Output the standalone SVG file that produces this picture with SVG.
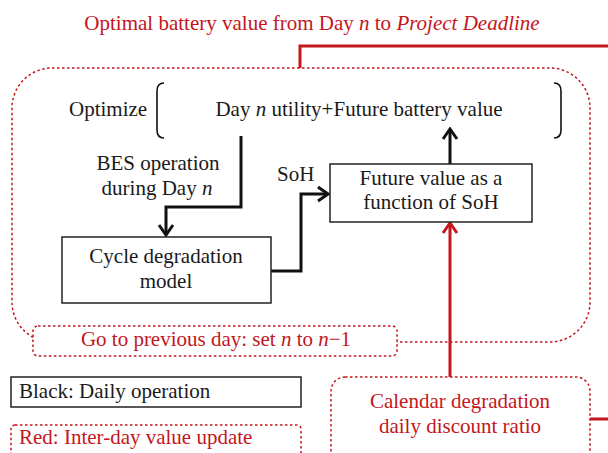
<svg xmlns="http://www.w3.org/2000/svg" width="608" height="453" viewBox="0 0 608 453">
  <style>
    text { font-family: "Liberation Serif", "Times New Roman", serif; font-size: 21px; }
    .blk { fill: #1a1a1a; }
    .red { fill: #c4161c; }
    .mid { text-anchor: middle; }
    .box { fill: #ffffff; stroke: #222222; stroke-width: 1.5; }
    .dot { fill: #ffffff; stroke: #c4161c; stroke-width: 1.5; stroke-dasharray: 2.5 2.5; }
    .dotn { fill: none; stroke: #c4161c; stroke-width: 1.5; stroke-dasharray: 2.5 2.5; }
    .wk { fill: none; stroke: #111111; stroke-width: 3; }
    .wr { fill: none; stroke: #c4161c; stroke-width: 3; }
    .brk { fill: none; stroke: #111111; stroke-width: 1.6; }
  </style>
  <defs>
    <marker id="ah-k" viewBox="-12 -9 14 18" refX="0" refY="0" markerWidth="14" markerHeight="18" markerUnits="userSpaceOnUse" orient="auto">
      <path d="M-10,-7 L0,0 L-10,7" fill="none" stroke="#111111" stroke-width="3"/>
    </marker>
    <marker id="ah-r" viewBox="-12 -9 14 18" refX="0" refY="0" markerWidth="14" markerHeight="18" markerUnits="userSpaceOnUse" orient="auto">
      <path d="M-10,-7 L0,0 L-10,7" fill="none" stroke="#c4161c" stroke-width="3"/>
    </marker>
  </defs>

  <!-- title -->
  <text class="red mid" x="312" y="30">Optimal battery value from Day <tspan font-style="italic">n</tspan> to <tspan font-style="italic">Project Deadline</tspan></text>

  <!-- daily loop frame -->
  <g id="frame">
    <rect class="dotn" x="12" y="68" width="578" height="274" rx="40" ry="40"/>
  </g>

  <!-- connectors -->
  <g id="connectors">
    <path class="wr" d="M300,68 V46 H610"/>
    <path class="wr" d="M590,419 H610"/>
    <path class="wk" d="M241,136 V207 H166 V235" marker-end="url(#ah-k)"/>
    <path class="wk" d="M271,271 H301 V194 H328" marker-end="url(#ah-k)"/>
    <path class="wk" d="M450,164 V129" marker-end="url(#ah-k)"/>
    <path class="wr" d="M450,377 V223" marker-end="url(#ah-r)"/>
  </g>

  <g id="optimize">
    <text class="blk" x="69" y="116">Optimize</text>
    <path class="brk" d="M164,83 Q157,83 157,91 V130 Q157,138 164,138"/>
    <path class="brk" d="M554,83 Q561,83 561,91 V130 Q561,138 554,138"/>
    <text class="blk mid" x="359" y="116">Day <tspan font-style="italic">n</tspan> utility+Future battery value</text>
  </g>

  <g id="bes-label">
    <text class="blk mid" x="158" y="170">BES operation</text>
    <text class="blk mid" x="157" y="195">during Day <tspan font-style="italic">n</tspan></text>
  </g>

  <g id="soh-label">
    <text class="blk" x="277" y="181">SoH</text>
  </g>

  <g id="cycle">
    <rect class="box" x="62" y="237" width="209" height="66"/>
    <text class="blk mid" x="166" y="263">Cycle degradation</text>
    <text class="blk mid" x="166" y="288">model</text>
  </g>

  <g id="future">
    <rect class="box" x="330" y="164" width="202" height="58"/>
    <text class="blk mid" x="431" y="185">Future value as a</text>
    <text class="blk mid" x="431" y="209">function of SoH</text>
  </g>

  <g id="prevday">
    <rect class="dot" x="33" y="326" width="364" height="30" rx="5" ry="5"/>
    <text class="red mid" x="216" y="346">Go to previous day: set <tspan font-style="italic">n</tspan> to <tspan font-style="italic">n</tspan>−1</text>
  </g>

  <g id="calendar">
    <rect class="dot" x="331" y="377" width="259" height="92" rx="14" ry="14"/>
    <text class="red mid" x="460" y="408">Calendar degradation</text>
    <text class="red mid" x="460" y="433">daily discount ratio</text>
  </g>

  <g id="legend-black">
    <rect class="box" x="11" y="377" width="290" height="30"/>
    <text class="blk" x="19" y="398">Black: Daily operation</text>
  </g>

  <g id="legend-red">
    <rect class="dot" x="11" y="425" width="290" height="40" rx="4" ry="4"/>
    <text class="red" x="19" y="444">Red: Inter-day value update</text>
  </g>
</svg>
